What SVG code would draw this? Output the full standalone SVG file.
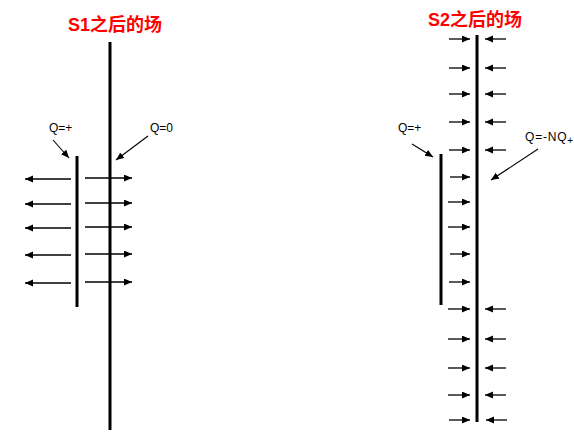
<svg xmlns="http://www.w3.org/2000/svg" width="574" height="436" viewBox="0 0 574 436">
<defs>
<style>
.title{font-family:"Liberation Sans","Noto Sans CJK SC",sans-serif;font-weight:bold;font-size:18px;fill:#ff0000;}
.lbl{font-family:"Liberation Sans",sans-serif;font-size:12px;fill:#000;}
.plate{stroke:#000;stroke-width:3;fill:none;}
.field{stroke:#000;stroke-width:1.3;fill:none;marker-end:url(#ah);}
.ptr{stroke:#000;stroke-width:1.1;fill:none;marker-end:url(#ah);}
</style>
<marker id="ah" markerUnits="userSpaceOnUse" markerWidth="9" markerHeight="8" refX="8" refY="3.5" orient="auto">
<path d="M0,0 L8,3.5 L0,7 z" fill="#000"/>
</marker>
</defs>
<rect width="574" height="436" fill="#fff"/>

<g id="s1">
<text class="title" x="115" y="31" text-anchor="middle">S1之后的场</text>
<g id="s1-plate-q0"><line class="plate" x1="110" y1="42" x2="110" y2="430"/></g>
<g id="s1-plate-qplus"><line class="plate" x1="77" y1="156" x2="77" y2="307"/></g>
<g id="s1-label-qplus"><text class="lbl" x="49" y="132">Q=+</text></g>
<g id="s1-label-q0"><text class="lbl" x="150" y="132">Q=0</text></g>
<g id="s1-connectors">
<line class="ptr" x1="53" y1="140" x2="69" y2="158"/>
<line class="ptr" x1="148" y1="136" x2="116" y2="160"/>
<line class="field" x1="71" y1="179" x2="25" y2="179"/>
<line class="field" x1="71" y1="204" x2="25" y2="204"/>
<line class="field" x1="71" y1="228" x2="25" y2="228"/>
<line class="field" x1="71" y1="255" x2="25" y2="255"/>
<line class="field" x1="71" y1="283" x2="25" y2="283"/>
<line class="field" x1="85" y1="178" x2="132" y2="178"/>
<line class="field" x1="85" y1="203" x2="132" y2="203"/>
<line class="field" x1="85" y1="227" x2="132" y2="227"/>
<line class="field" x1="85" y1="254" x2="132" y2="254"/>
<line class="field" x1="85" y1="282" x2="132" y2="282"/>
</g>
</g>

<g id="s2">
<text class="title" x="475" y="26" text-anchor="middle">S2之后的场</text>
<g id="s2-plate-qneg"><line class="plate" x1="477" y1="35" x2="477" y2="422"/></g>
<g id="s2-plate-qplus"><line class="plate" x1="441" y1="154" x2="441" y2="305"/></g>
<g id="s2-label-qplus"><text class="lbl" x="398" y="132">Q=+</text></g>
<g id="s2-label-qneg"><text class="lbl" x="525" y="141" letter-spacing="0.8">Q=-NQ<tspan font-size="10" dy="3">+</tspan></text></g>
<g id="s2-connectors">
<line class="ptr" x1="412" y1="144" x2="433" y2="157"/>
<line class="ptr" x1="538" y1="149" x2="491" y2="180"/>
<line class="field" x1="449" y1="39" x2="470" y2="39"/>
<line class="field" x1="449" y1="68" x2="470" y2="68"/>
<line class="field" x1="449" y1="94" x2="470" y2="94"/>
<line class="field" x1="449" y1="122" x2="470" y2="122"/>
<line class="field" x1="449" y1="150" x2="470" y2="150"/>
<line class="field" x1="450" y1="177" x2="470" y2="177"/>
<line class="field" x1="448" y1="202" x2="470" y2="202"/>
<line class="field" x1="448" y1="227" x2="470" y2="227"/>
<line class="field" x1="450" y1="254" x2="470" y2="254"/>
<line class="field" x1="449" y1="282" x2="470" y2="282"/>
<line class="field" x1="448" y1="309" x2="470" y2="309"/>
<line class="field" x1="448" y1="339" x2="470" y2="339"/>
<line class="field" x1="448" y1="368" x2="470" y2="368"/>
<line class="field" x1="448" y1="395" x2="470" y2="395"/>
<line class="field" x1="449" y1="420" x2="470" y2="420"/>
<line class="field" x1="506" y1="39" x2="485" y2="39"/>
<line class="field" x1="506" y1="68" x2="485" y2="68"/>
<line class="field" x1="506" y1="94" x2="485" y2="94"/>
<line class="field" x1="506" y1="122" x2="485" y2="122"/>
<line class="field" x1="506" y1="150" x2="485" y2="150"/>
<line class="field" x1="506" y1="309" x2="485" y2="309"/>
<line class="field" x1="506" y1="339" x2="485" y2="339"/>
<line class="field" x1="506" y1="368" x2="485" y2="368"/>
<line class="field" x1="506" y1="395" x2="485" y2="395"/>
<line class="field" x1="507" y1="420" x2="486" y2="420"/>
</g>
</g>
</svg>
